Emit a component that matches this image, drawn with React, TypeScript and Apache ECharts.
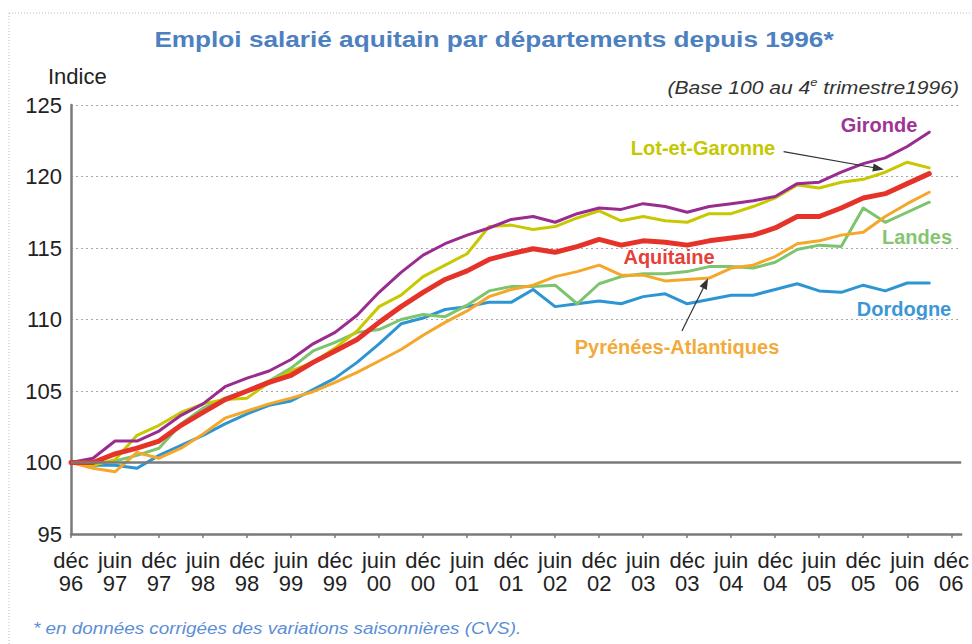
import React, { useEffect, useRef } from "react";
import * as echarts from "echarts";

const tickLabels = ["déc\n96","juin\n97","déc\n97","juin\n98","déc\n98","juin\n99","déc\n99","juin\n00","déc\n00","juin\n01","déc\n01","juin\n02","déc\n02","juin\n03","déc\n03","juin\n04","déc\n04","juin\n05","déc\n05","juin\n06","déc\n06"];

const gironde = [100.0,100.3,101.5,101.5,102.2,103.3,104.1,105.3,105.9,106.4,107.2,108.3,109.1,110.3,111.9,113.3,114.5,115.3,115.9,116.4,117.0,117.2,116.8,117.4,117.8,117.7,118.1,117.9,117.5,117.9,118.1,118.3,118.6,119.5,119.6,120.3,120.9,121.3,122.1,123.1];
const lotEtGaronne = [100.0,99.8,100.2,101.9,102.6,103.5,104.1,104.4,104.5,105.6,106.4,107.0,108.0,109.2,110.9,111.7,113.0,113.8,114.6,116.5,116.6,116.3,116.5,117.1,117.6,116.9,117.2,116.9,116.8,117.4,117.4,117.9,118.5,119.4,119.2,119.6,119.8,120.3,121.0,120.6];
const aquitaine = [100.0,100.0,100.6,101.0,101.5,102.6,103.5,104.4,105.0,105.6,106.1,107.0,107.8,108.6,109.8,110.9,111.9,112.8,113.4,114.2,114.6,114.95,114.7,115.1,115.6,115.2,115.5,115.4,115.2,115.5,115.7,115.9,116.4,117.2,117.2,117.8,118.5,118.8,119.5,120.2];
const landes = [100.0,99.9,100.1,100.5,101.0,102.7,103.8,104.5,105.0,105.7,106.6,107.8,108.4,109.1,109.3,110.0,110.35,110.2,111.0,112.0,112.3,112.3,112.4,111.1,112.5,113.0,113.2,113.2,113.35,113.7,113.7,113.6,114.0,114.9,115.2,115.1,117.8,116.8,117.5,118.2];
const dordogne = [100.0,99.8,99.8,99.6,100.5,101.2,101.9,102.7,103.4,104.0,104.3,105.1,105.9,107.0,108.3,109.7,110.1,110.7,110.9,111.2,111.2,112.1,110.9,111.1,111.3,111.1,111.6,111.8,111.1,111.4,111.7,111.7,112.1,112.5,112.0,111.9,112.4,112.0,112.55,112.55];
const pyrenees = [100.0,99.6,99.35,100.7,100.3,101.0,102.0,103.1,103.6,104.1,104.5,104.95,105.6,106.3,107.1,107.9,108.9,109.8,110.6,111.6,112.1,112.4,113.0,113.35,113.8,113.1,113.1,112.7,112.8,112.9,113.6,113.8,114.4,115.3,115.5,115.9,116.1,117.2,118.1,118.9];

const toPts = (arr: number[]) => arr.map((v, i) => [i, v]);
const tickValues = tickLabels.map((_, k) => k * 2);

export default function App() {
  const ref = useRef<HTMLDivElement>(null);
  useEffect(() => {
    const chart = echarts.init(ref.current!, null, { renderer: "svg" });
    const font = '"Liberation Sans", Arial, sans-serif';
    const mk = (name: string, data: number[], color: string, width: number, extra: any = {}) => ({
      name,
      type: "line",
      data: toPts(data),
      showSymbol: false,
      symbol: "none",
      lineStyle: { color, width, join: "round", cap: "round" },
      itemStyle: { color },
      silent: true,
      ...extra,
    });
    const center = { align: "center", verticalAlign: "middle", textAlign: "center", textVerticalAlign: "middle" };
    chart.setOption({
      animation: false,
      backgroundColor: "#ffffff",
      grid: { left: 71, right: 9, top: 105, bottom: 110 },
      xAxis: {
        type: "value",
        min: 0,
        max: 40.45,
        splitLine: { show: false },
        axisLine: { show: true, lineStyle: { color: "#7a7a7a", width: 2.5 } },
        axisTick: { show: true, customValues: tickValues, length: 4, inside: false, lineStyle: { color: "#7a7a7a", width: 1.5 } },
        axisLabel: {
          customValues: tickValues,
          formatter: (v: number) => tickLabels[Math.round(v / 2)] ?? "",
          fontFamily: font,
          fontSize: 22,
          lineHeight: 23,
          color: "#222",
          margin: 15,
        },
      },
      yAxis: {
        type: "value",
        min: 95,
        max: 125,
        interval: 5,
        axisLine: { show: true, lineStyle: { color: "#7a7a7a", width: 2.5 } },
        axisTick: { show: false },
        axisLabel: { fontFamily: font, fontSize: 22, color: "#222", margin: 9 },
        splitLine: { show: true, lineStyle: { color: "#a8a8a8", width: 1.2, type: [2, 3] } },
      },
      series: [
        mk("Dordogne", dordogne, "#2E95D3", 3, {
          markLine: {
            silent: true,
            symbol: ["none", "none"],
            label: { show: false },
            lineStyle: { color: "#7a7a7a", width: 2.5, type: "solid" },
            data: [{ yAxis: 100 }],
          },
        }),
        mk("Landes", landes, "#7DC46E", 3),
        mk("Pyrénées-Atlantiques", pyrenees, "#F4A72A", 3),
        mk("Lot-et-Garonne", lotEtGaronne, "#C8C800", 3),
        mk("Gironde", gironde, "#9B2C8F", 3),
        mk("Aquitaine", aquitaine, "#E6332A", 5, {
          markLine: {
            silent: true,
            symbol: ["none", "triangle"],
            symbolSize: [8, 11],
            label: { show: false },
            lineStyle: { color: "#333", width: 1.2, type: "solid" },
            data: [
              [{ coord: [32.38, 121.74] }, { coord: [36.69, 120.56] }],
              [{ coord: [27.76, 109.2] }, { coord: [28.84, 112.54] }],
            ],
          },
        }),
      ],
      graphic: [
        { type: "rect", shape: { x: 9, y: 13, width: 1000, height: 1000 }, style: { fill: "none", stroke: "#bdbdbd", lineWidth: 1, lineDash: [1, 2] }, silent: true },
        { type: "text", x: 494, y: 39, scaleX: 1.19, style: { text: "Emploi salarié aquitain par départements depuis 1996*", font: `bold 22px ${font}`, fill: "#4D80BF", ...center } },
        { type: "text", x: 48, y: 76, style: { text: "Indice", font: `22px ${font}`, fill: "#222", align: "left", verticalAlign: "middle", textAlign: "left", textVerticalAlign: "middle" } },
        {
          type: "text", x: 959, y: 87, scaleX: 1.17,
          style: {
            text: "{a|(Base 100 au 4}{s|e}{a| trimestre1996)}",
            align: "right", verticalAlign: "middle", textAlign: "right", textVerticalAlign: "middle",
            rich: {
              a: { font: `italic 18px ${font}`, fill: "#333", color: "#333", verticalAlign: "bottom", lineHeight: 20 },
              s: { font: `italic 11px ${font}`, fill: "#333", color: "#333", verticalAlign: "top", lineHeight: 20 },
            },
          },
        },
        { type: "text", x: 33, y: 628, scaleX: 1.11, style: { text: "* en données corrigées des variations saisonnières (CVS).", font: `italic 17px ${font}`, fill: "#5B8ED6", align: "left", verticalAlign: "middle", textAlign: "left", textVerticalAlign: "middle" } },
        { type: "text", x: 879, y: 125, style: { text: "Gironde", font: `bold 20px ${font}`, fill: "#9E3493", ...center } },
        { type: "text", x: 703, y: 148, style: { text: "Lot-et-Garonne", font: `bold 20px ${font}`, fill: "#C4C800", ...center } },
        { type: "text", x: 669, y: 257, style: { text: "Aquitaine", font: `bold 20px ${font}`, fill: "#E5403A", ...center } },
        { type: "text", x: 917, y: 237, style: { text: "Landes", font: `bold 20px ${font}`, fill: "#86C472", ...center } },
        { type: "text", x: 904, y: 309, style: { text: "Dordogne", font: `bold 20px ${font}`, fill: "#3D97D6", ...center } },
        { type: "text", x: 677, y: 347, style: { text: "Pyrénées-Atlantiques", font: `bold 20px ${font}`, fill: "#F2AA3A", ...center } },
      ],
    });
    return () => chart.dispose();
  }, []);
  return <div ref={ref} style={{ position: "fixed", left: 0, top: 0, width: 972, height: 644, background: "#fff" }} />;
}
